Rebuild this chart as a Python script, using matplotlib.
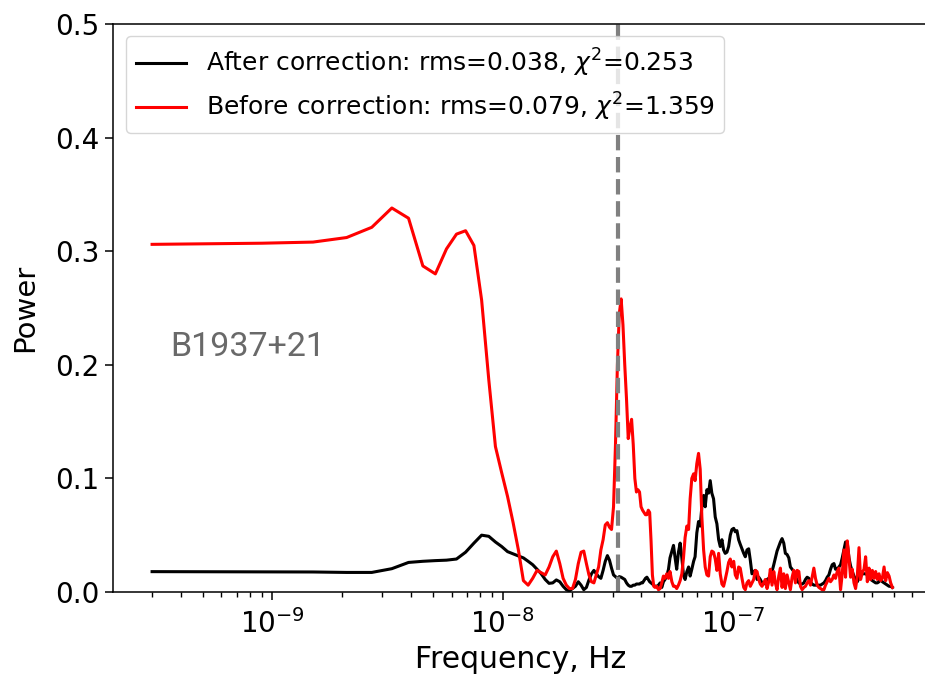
import matplotlib

matplotlib.use("Agg")
import matplotlib.pyplot as plt
import numpy as np


# frequencies in nHz (shared by both spectra)
FREQ_NHZ: list[float] = [
    0.3, 0.9, 1.5, 2.1, 2.7, 3.3, 3.9, 4.5, 5.1, 5.7, 6.3, 6.9, 7.5, 8.1, 8.7,
    9.3, 9.9, 10.5, 11.1, 11.7, 12.3, 12.9, 13.5, 14.1, 14.7, 15.3, 15.9, 16.5,
    17.1, 17.7, 18.3, 18.9, 19.5, 20.1, 20.7, 21.3, 21.9, 22.5, 23.1, 23.7,
    24.3, 24.9, 25.5, 26.1, 26.7, 27.3, 27.9, 28.5, 29.1, 29.7, 30.3, 30.9,
    31.5, 32.1, 32.7, 33.3, 33.9, 34.5, 35.1, 35.7, 36.3, 36.9, 37.5, 38.1,
    38.7, 39.3, 39.9, 40.5, 41.1, 41.7, 42.3, 42.9, 43.5, 44.1, 44.7, 45.3,
    45.9, 46.7, 47.5, 48.3, 49.1, 49.9, 50.7, 51.6, 52.5, 53.3, 54.3, 55.2,
    56.1, 57.0, 58.0, 59.0, 60.0, 61.0, 62.0, 63.1, 64.2, 65.2, 66.3, 67.5,
    68.5, 69.7, 70.9, 72.1, 73.3, 74.6, 75.8, 77.1, 78.4, 79.7, 81.0, 82.4,
    83.8, 85.2, 86.7, 88.1, 89.6, 91.1, 92.6, 94.2, 95.8, 97.4, 99.0, 100.8,
    102.4, 104.1, 105.9, 107.6, 109.5, 111.4, 113.2, 115.1, 117.1, 119.0,
    121.0, 123.1, 125.1, 127.3, 129.5, 131.5, 133.8, 136.1, 138.3, 140.7,
    143.1, 145.4, 147.9, 150.5, 152.9, 155.5, 158.2, 160.8, 163.5, 166.3,
    169.0, 171.9, 174.9, 177.7, 180.8, 183.9, 186.9, 190.1, 193.4, 196.5,
    199.9, 203.3, 206.6, 210.1, 213.8, 217.2, 220.9, 224.7, 228.4, 232.3,
    236.3, 240.1, 244.2, 248.5, 252.5, 256.8, 261.2, 265.5, 270.0, 274.7,
    279.1, 283.9, 288.8, 293.5, 298.5, 303.6, 308.5, 313.9, 319.2, 324.4,
    330.0, 335.7, 341.1, 347.0, 352.9, 358.6, 364.8, 371.1, 377.1, 383.6,
    390.2, 396.5, 403.3, 410.2, 416.9, 424.0, 431.3, 438.3, 445.8, 453.5,
    460.9, 468.8, 476.8, 484.5, 492.9,
]

POWER_AFTER: list[float] = [
    0.0179, 0.0177, 0.0176, 0.0172, 0.0172, 0.0205, 0.026, 0.027, 0.0276,
    0.028, 0.029, 0.035, 0.043, 0.050, 0.049, 0.044, 0.040, 0.0355, 0.0335,
    0.0317, 0.030, 0.027, 0.024, 0.020, 0.016, 0.011, 0.0076, 0.008, 0.0106,
    0.009, 0.005, 0.002, 0.001, 0.003, 0.005, 0.009, 0.006, 0.002, 0.004,
    0.0106, 0.016, 0.019, 0.016, 0.0135, 0.012, 0.019, 0.027, 0.032, 0.028,
    0.021, 0.015, 0.0135, 0.012, 0.0135,
    0.013, 0.012, 0.011, 0.008, 0.006, 0.005, 0.005, 0.006, 0.006, 0.007,
    0.007, 0.007, 0.008, 0.008, 0.010, 0.012, 0.013, 0.011, 0.009, 0.008,
    0.007, 0.006,
    0.005, 0.005, 0.006, 0.008, 0.004, 0.009, 0.011, 0.014, 0.020, 0.030,
    0.036, 0.041, 0.030, 0.020, 0.035, 0.043, 0.030, 0.015, 0.011, 0.018,
    0.022, 0.014, 0.020, 0.027, 0.031, 0.052, 0.062, 0.058, 0.075, 0.085,
    0.075, 0.090, 0.087, 0.098, 0.087, 0.082, 0.066, 0.060, 0.046, 0.040,
    0.046, 0.037, 0.034, 0.035, 0.040, 0.050, 0.055, 0.056, 0.053, 0.054,
    0.046, 0.042, 0.038, 0.034, 0.031, 0.037, 0.038, 0.028, 0.016, 0.018,
    0.019, 0.011, 0.013, 0.011, 0.008, 0.007, 0.009, 0.011, 0.012, 0.013,
    0.018, 0.024, 0.030, 0.036, 0.040, 0.044, 0.047, 0.043, 0.034, 0.033,
    0.030, 0.022, 0.020, 0.018, 0.014, 0.010, 0.008, 0.007, 0.007, 0.008,
    0.011, 0.013, 0.012, 0.009, 0.007, 0.006, 0.006, 0.006, 0.006, 0.006,
    0.007, 0.008, 0.010, 0.013, 0.015, 0.020, 0.024, 0.025, 0.020, 0.020,
    0.022, 0.024, 0.030, 0.037, 0.044, 0.043, 0.030, 0.023, 0.018, 0.014,
    0.011, 0.009, 0.012, 0.015, 0.016, 0.016, 0.016, 0.015, 0.013, 0.011,
    0.010, 0.009, 0.008, 0.008, 0.009, 0.011, 0.009, 0.008, 0.007, 0.006,
    0.005, 0.005, 0.004,
]

POWER_BEFORE: list[float] = [
    0.306, 0.307, 0.308, 0.312, 0.321, 0.338, 0.329, 0.287, 0.280, 0.302,
    0.315, 0.318, 0.305, 0.257, 0.187, 0.128, 0.105, 0.084, 0.061, 0.037,
    0.010, 0.006, 0.012, 0.019, 0.017, 0.015, 0.022, 0.031, 0.036, 0.025,
    0.012, 0.006, 0.003, 0.003, 0.011, 0.025, 0.035, 0.036, 0.025, 0.015,
    0.009, 0.008, 0.015, 0.022, 0.037, 0.046, 0.059, 0.061, 0.057, 0.055,
    0.075, 0.130, 0.200, 0.245,
    0.258, 0.235, 0.200, 0.170, 0.135, 0.145, 0.152, 0.130, 0.100, 0.088,
    0.090, 0.088, 0.075, 0.072, 0.070, 0.068, 0.068, 0.072, 0.070, 0.045,
    0.015, 0.005,
    0.004, 0.005, 0.002, 0.003, 0.008, 0.014, 0.012, 0.016, 0.012, 0.018,
    0.009, 0.005, 0.005, 0.003, 0.006, 0.010, 0.016, 0.030, 0.048, 0.058,
    0.055, 0.082, 0.100, 0.104, 0.098, 0.113, 0.122, 0.108, 0.066, 0.037,
    0.022, 0.015, 0.014, 0.031, 0.036, 0.035, 0.029, 0.019, 0.034, 0.016,
    0.007, 0.005, 0.011, 0.018, 0.026, 0.029, 0.022, 0.027, 0.015, 0.012,
    0.022, 0.021, 0.012, 0.004, 0.002, 0.008, 0.010, 0.005, 0.008, 0.011,
    0.019, 0.018, 0.011, 0.007, 0.005, 0.008, 0.011, 0.003, 0.009, 0.020,
    0.006, 0.018, 0.008, 0.002, 0.014, 0.021, 0.004, 0.016, 0.003, 0.015,
    0.008, 0.002, 0.013, 0.019, 0.008, 0.019, 0.018, 0.005, 0.002, 0.004,
    0.005, 0.008, 0.010, 0.006, 0.013, 0.021, 0.012, 0.006, 0.004, 0.003,
    0.002, 0.002, 0.006, 0.009, 0.012, 0.009, 0.011, 0.015, 0.012, 0.018,
    0.021, 0.002, 0.016, 0.037, 0.013, 0.045, 0.030, 0.013, 0.020, 0.008,
    0.003, 0.014, 0.039, 0.011, 0.017, 0.020, 0.031, 0.009, 0.021, 0.011,
    0.019, 0.012, 0.018, 0.011, 0.016, 0.010, 0.012, 0.022, 0.010, 0.017,
    0.014, 0.008, 0.004,
]

X_TICKS: list[float] = [1e-9, 1e-8, 1e-7]
X_TICK_LABELS: list[str] = [r"$10^{-9}$", r"$10^{-8}$", r"$10^{-7}$"]

LABEL_AFTER = r"After correction: rms=0.038, $\chi^2$=0.253"
LABEL_BEFORE = r"Before correction: rms=0.079, $\chi^2$=1.359"
PULSAR_NAME = "B1937+21"
ONE_YEAR_HZ = 1.0 / (365.25 * 86400.0)


def plot_spectra() -> None:
    freq = np.array(FREQ_NHZ) * 1e-9

    fig = plt.figure(figsize=(9.25, 6.77), dpi=100)
    ax = fig.add_axes([0.1222, 0.1256, 0.882, 0.839])

    ax.plot(freq, POWER_AFTER, color="black", lw=2.2, label=LABEL_AFTER)
    ax.plot(freq, POWER_BEFORE, color="red", lw=2.2, label=LABEL_BEFORE)
    ax.axvline(ONE_YEAR_HZ, color="gray", ls="--", lw=3)

    ax.set_xscale("log")
    ax.set_xlim(2.03e-10, 7.1e-7)
    ax.set_ylim(0, 0.5)
    ax.set_xticks(X_TICKS, X_TICK_LABELS)

    ax.set_xlabel("Frequency, Hz", fontsize=21.5, labelpad=5)
    ax.set_ylabel("Power", fontsize=21, labelpad=12)
    ax.tick_params(which="major", labelsize=20, length=6, width=1.1)
    ax.tick_params(axis="x", which="major", pad=6)
    ax.tick_params(which="minor", length=3.6, width=1.0, labelbottom=False)
    for spine in ax.spines.values():
        spine.set_linewidth(1.1)

    ax.text(
        0.07, 0.4155, PULSAR_NAME,
        transform=ax.transAxes, fontsize=24.5, color="dimgray",
        family="Roboto",
    )
    ax.legend(loc="upper left", fontsize=18)

    fig.savefig("out.png", dpi=100)


def main() -> None:
    plot_spectra()


if __name__ == "__main__":
    main()
